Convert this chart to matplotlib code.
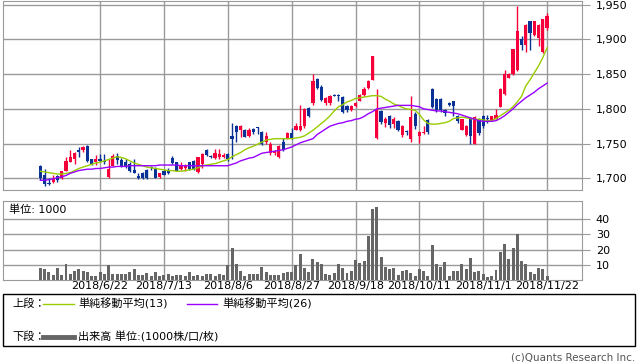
import matplotlib
matplotlib.use("Agg")
import matplotlib.pyplot as plt
import numpy as np
import pandas as pd
from matplotlib.lines import Line2D
from matplotlib.patches import Rectangle
from matplotlib.ticker import FuncFormatter

plt.rcParams['font.family'] = ['DejaVu Sans', 'Noto Sans CJK JP']

# trading days 2018/6/4 - 2018/11/22 (TSE holidays removed)
holidays = ['2018-07-16', '2018-09-17', '2018-09-24', '2018-10-08']
dates = [d for d in pd.bdate_range('2018-06-04', '2018-11-22')
         if d.strftime('%Y-%m-%d') not in holidays]

opens = [1717, 1705, 1693, 1694, 1703, 1700, 1711, 1724, 1727, 1740,
         1740, 1747, 1727, 1723, 1728, 1725, 1702, 1718, 1732, 1726,
         1724, 1720, 1712, 1703, 1708, 1712, 1716, 1714, 1702, 1711,
         1712, 1729, 1723, 1713, 1714, 1723, 1725, 1709, 1720, 1741,
         1732, 1729, 1730, 1731, 1735, 1761, 1775, 1770, 1769, 1761,
         1771, 1773, 1766, 1752, 1736, 1736, 1731, 1752, 1758, 1765,
         1770, 1769, 1775, 1801, 1808, 1843, 1832, 1808, 1808, 1820,
         1820, 1817, 1804, 1799, 1804, 1812, 1820, 1830, 1842, 1758,
         1797, 1779, 1789, 1778, 1782, 1762, 1768, 1756, 1792, 1761,
         1765, 1784, 1829, 1814, 1814, 1798, 1809, 1811, 1789, 1770,
         1763, 1785, 1750, 1785, 1789, 1787, 1783, 1786, 1803, 1822,
         1845, 1850, 1856, 1900, 1892, 1926, 1906, 1902, 1882, 1916]
highs = [1719, 1713, 1700, 1705, 1705, 1711, 1731, 1740, 1738, 1745,
         1747, 1748, 1728, 1733, 1735, 1735, 1727, 1735, 1736, 1729,
         1728, 1723, 1728, 1707, 1709, 1713, 1717, 1716, 1708, 1712,
         1714, 1732, 1724, 1724, 1721, 1724, 1726, 1731, 1736, 1742,
         1733, 1742, 1742, 1736, 1737, 1780, 1777, 1776, 1771, 1772,
         1772, 1774, 1768, 1766, 1752, 1740, 1748, 1758, 1766, 1772,
         1779, 1806, 1801, 1802, 1850, 1845, 1834, 1817, 1820, 1821,
         1821, 1818, 1805, 1806, 1810, 1822, 1831, 1841, 1876, 1828,
         1799, 1788, 1791, 1788, 1784, 1776, 1769, 1818, 1795, 1768,
         1775, 1786, 1830, 1815, 1815, 1800, 1810, 1812, 1791, 1786,
         1777, 1788, 1790, 1787, 1791, 1791, 1790, 1800, 1830, 1856,
         1851, 1887, 1948, 1905, 1922, 1927, 1927, 1922, 1930, 1938]
lows = [1698, 1689, 1690, 1693, 1695, 1699, 1710, 1723, 1721, 1731,
        1738, 1724, 1719, 1719, 1723, 1721, 1701, 1717, 1721, 1716,
        1714, 1709, 1707, 1699, 1699, 1699, 1712, 1700, 1701, 1704,
        1706, 1720, 1710, 1712, 1711, 1712, 1712, 1707, 1714, 1732,
        1729, 1728, 1727, 1729, 1725, 1727, 1752, 1760, 1759, 1760,
        1764, 1764, 1748, 1750, 1734, 1734, 1729, 1739, 1757, 1756,
        1769, 1768, 1773, 1788, 1806, 1829, 1811, 1806, 1806, 1818,
        1812, 1794, 1795, 1797, 1802, 1811, 1818, 1829, 1841, 1756,
        1778, 1774, 1772, 1772, 1768, 1760, 1763, 1752, 1771, 1751,
        1764, 1764, 1801, 1795, 1796, 1790, 1804, 1790, 1780, 1769,
        1761, 1749, 1749, 1763, 1773, 1779, 1782, 1785, 1802, 1820,
        1844, 1849, 1855, 1885, 1882, 1885, 1905, 1890, 1880, 1914]
closes = [1701, 1691, 1692, 1700, 1698, 1710, 1725, 1730, 1736, 1738,
          1745, 1725, 1720, 1727, 1725, 1723, 1713, 1732, 1726, 1718,
          1717, 1711, 1708, 1700, 1700, 1700, 1714, 1701, 1707, 1705,
          1707, 1722, 1711, 1719, 1717, 1713, 1713, 1730, 1735, 1734,
          1730, 1736, 1735, 1733, 1727, 1756, 1767, 1775, 1760, 1770,
          1766, 1772, 1750, 1761, 1749, 1739, 1746, 1740, 1765, 1758,
          1775, 1775, 1800, 1790, 1840, 1830, 1813, 1815, 1819, 1819,
          1818, 1795, 1798, 1804, 1809, 1820, 1828, 1840, 1876, 1798,
          1781, 1786, 1777, 1786, 1770, 1775, 1766, 1788, 1775, 1766,
          1767, 1766, 1803, 1798, 1798, 1794, 1806, 1804, 1782, 1785,
          1775, 1761, 1788, 1765, 1775, 1785, 1789, 1791, 1829, 1850,
          1850, 1886, 1912, 1892, 1921, 1909, 1926, 1921, 1929, 1934]
sma13 = [1710, 1709, 1708, 1707, 1706, 1706, 1707, 1708, 1711, 1714,
         1716, 1718, 1720, 1722, 1723, 1725, 1727, 1729, 1731, 1730,
         1728, 1725, 1722, 1720, 1718, 1716, 1715, 1714, 1713, 1712,
         1711, 1711, 1710, 1710, 1711, 1712, 1713, 1715, 1718, 1719,
         1720, 1721, 1723, 1725, 1727, 1731, 1734, 1737, 1741, 1744,
         1746, 1749, 1752, 1755, 1756, 1757, 1757, 1757, 1757, 1757,
         1758, 1759, 1761, 1765, 1769, 1774, 1779, 1784, 1790, 1797,
         1803, 1806, 1810, 1812, 1815, 1816, 1817, 1818, 1819, 1819,
         1818, 1814, 1811, 1807, 1805, 1802, 1800, 1799, 1798, 1792,
         1784, 1779, 1778, 1778, 1779, 1780, 1782, 1786, 1787, 1788,
         1787, 1786, 1785, 1785, 1784, 1783, 1783, 1786, 1790, 1794,
         1798, 1803, 1810, 1818, 1833, 1842, 1852, 1862, 1874, 1888]
sma26 = [1697, 1697, 1698, 1699, 1701, 1702, 1704, 1707, 1709, 1711,
         1712, 1713, 1713, 1714, 1714, 1715, 1716, 1716, 1717, 1717,
         1717, 1718, 1718, 1718, 1718, 1718, 1718, 1718, 1719, 1719,
         1719, 1719, 1719, 1718, 1718, 1718, 1718, 1718, 1718, 1718,
         1718, 1718, 1718, 1718, 1718, 1720, 1722, 1725, 1727, 1729,
         1730, 1733, 1736, 1737, 1738, 1739, 1740, 1741, 1743, 1745,
         1748, 1751, 1753, 1755, 1757, 1763, 1767, 1771, 1775, 1777,
         1779, 1780, 1782, 1783, 1785, 1786, 1789, 1793, 1796, 1800,
         1801, 1802, 1803, 1804, 1805, 1805, 1805, 1805, 1804, 1803,
         1800, 1799, 1798, 1797, 1797, 1796, 1795, 1794, 1793, 1791,
         1789, 1787, 1785, 1783, 1782, 1782, 1782, 1783, 1786, 1790,
         1795, 1800, 1806, 1811, 1816, 1820, 1824, 1829, 1833, 1837]
volume = [7.8, 7.4, 5, 3, 8, 3, 10.6, 4.1, 6, 7.4,
          6, 5.4, 2.6, 2.8, 5.4, 3.7, 9.6, 3.7, 3.9, 3.9,
          4.1, 5.2, 7, 3.5, 3.5, 4.8, 2.6, 5, 2.6, 3,
          3.9, 2.6, 3.3, 3.5, 2.8, 5, 2.6, 3.3, 2.8, 3.7,
          4.1, 2.4, 4, 3.5, 9.6, 20.9, 10.6, 6, 2.8, 4.1,
          4.1, 3.7, 8.7, 5.2, 3.5, 3.5, 3.3, 4.8, 5, 5,
          10, 17.2, 8, 5, 13.9, 12, 10.6, 4.1, 3.5, 4.8,
          10.6, 8, 4.8, 6, 13.3, 11.5, 12.6, 29, 46.5, 48,
          15.2, 8.7, 7.4, 8, 3.5, 6, 6.7, 4.8, 2.8, 7.4,
          6, 2.8, 23, 10.6, 8.7, 12, 2.8, 6, 6, 10.6,
          7.4, 14.6, 5.4, 6, 4.1, 2.2, 2.8, 6.7, 18.5, 23.7,
          13.9, 21, 30.2, 12.6, 10.6, 5.4, 4.1, 8, 7.4, 2.8]
tick_labels = ['2018/6/22', '2018/7/13', '2018/8/6', '2018/8/27',
               '2018/9/18', '2018/10/11', '2018/11/1', '2018/11/22']

RED = '#f5003a'
BLUE = '#0a3296'
GRID = '#9a9a9a'

W, H = 638, 362
fig = plt.figure(figsize=(W / 100, H / 100), dpi=100)


def box(l, t, r, b):
    return [l / W, 1 - b / H, (r - l) / W, (b - t) / H]


ax = fig.add_axes(box(3, 1, 582, 190))
axv = fig.add_axes(box(3, 201, 582, 280))

o = np.array(opens, float)
c = np.array(closes, float)
x = np.arange(len(o))
cols = np.where(c >= o, RED, BLUE)
date_str = [f"{d.year}/{d.month}/{d.day}" for d in dates]
tick_pos = [date_str.index(t) for t in tick_labels]

# candles
ax.vlines(x, lows, highs, color=cols, lw=1, zorder=3)
ax.bar(x, np.maximum(np.abs(c - o), 1.2), bottom=np.minimum(o, c),
       width=0.75, color=cols, linewidth=0, zorder=3)
ax.plot(x, sma13, color='#99cc00', lw=1, zorder=4)
ax.plot(x, sma26, color='#9900ff', lw=1, zorder=4)

ax.set_xlim(-8.8, 127.2)
ax.set_ylim(1683, 1955.5)
ax.set_yticks([1700, 1750, 1800, 1850, 1900, 1950])
ax.yaxis.set_major_formatter(FuncFormatter(lambda v, p: f"{v:,.0f}"))

# volume
axv.bar(x, volume, width=0.7, color='#666666', linewidth=0, zorder=3)
axv.set_xlim(-8.8, 127.2)
axv.set_ylim(0, 52)
axv.set_yticks([10, 20, 30, 40])

for a in (ax, axv):
    a.set_axisbelow(True)
    a.grid(color=GRID, lw=1)
    for s in a.spines.values():
        s.set_color(GRID)
    a.yaxis.tick_right()
    a.tick_params(axis='y', length=6, color=GRID, labelsize=8, pad=4)
    a.set_xticks(tick_pos)
ax.tick_params(axis='x', length=0, labelbottom=False)
axv.set_xticklabels(tick_labels)
axv.tick_params(axis='x', length=0, labelsize=8, pad=1)

fig.text(9 / W, 1 - 210 / H, '単位: 1000', fontsize=8, va='center')

# legend box
fig.add_artist(Rectangle((3 / W, 1 - 346 / H), 632 / W, 52 / H,
                         transform=fig.transFigure, fill=False,
                         edgecolor='black', lw=1))
y1 = 1 - 303.5 / H
y2 = 1 - 337 / H
fig.text(12 / W, y1, '上段：', fontsize=8, va='center')
fig.add_artist(Line2D([43 / W, 74 / W], [y1, y1], color='#99cc00', lw=1))
fig.text(78 / W, y1, '単純移動平均(13)', fontsize=8, va='center')
fig.add_artist(Line2D([187 / W, 217 / W], [y1, y1], color='#9900ff', lw=1))
fig.text(222 / W, y1, '単純移動平均(26)', fontsize=8, va='center')
fig.text(12 / W, y2, '下段：', fontsize=8, va='center')
fig.add_artist(Line2D([43 / W, 74 / W], [y2, y2], color='#666666', lw=3.5))
fig.text(78 / W, y2, '出来高 単位:(1000株/口/枚)', fontsize=8, va='center')

fig.text(635 / W, 1 - 357 / H, '(c)Quants Research Inc.', fontsize=7.5,
         color='#555555', ha='right', va='center')

fig.savefig('out.png', dpi=100)
